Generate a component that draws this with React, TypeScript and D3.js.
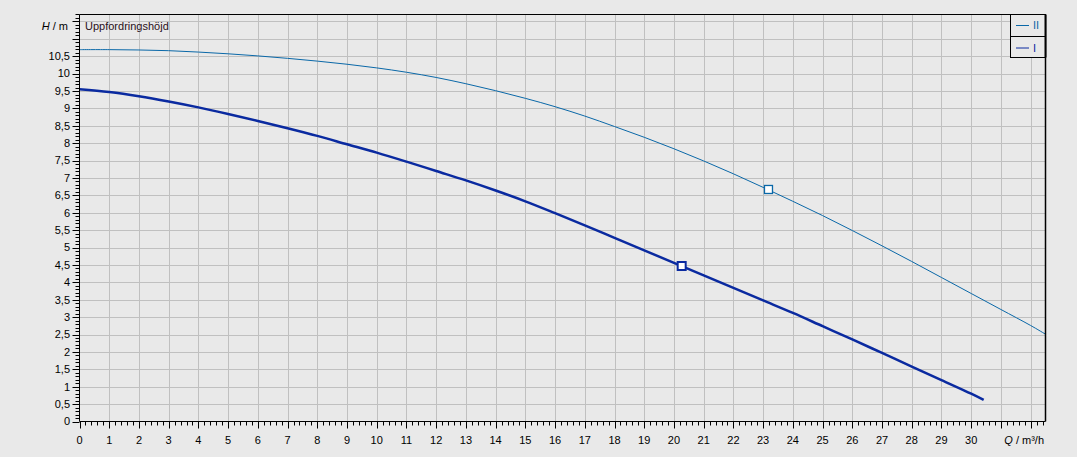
import React from "react";
import * as d3 from "d3";

const flowI = [0, 1, 2, 3, 4, 5, 6, 7, 8, 9, 10, 11, 12, 13, 14, 15, 16, 17, 18, 19, 20, 21, 22, 23, 24, 25, 26, 27, 28, 29, 30, 30.42];
const headI = [9.55, 9.47, 9.35, 9.2, 9.03, 8.84, 8.64, 8.43, 8.21, 7.97, 7.73, 7.47, 7.2, 6.93, 6.64, 6.33, 5.99, 5.64, 5.28, 4.92, 4.56, 4.2, 3.84, 3.48, 3.12, 2.74, 2.36, 1.97, 1.58, 1.19, 0.8, 0.62];
const flowII = [0, 1, 2, 3, 4, 5, 6, 7, 8, 9, 10, 11, 12, 13, 14, 15, 16, 17, 18, 19, 20, 21, 22, 23, 24, 25, 26, 27, 28, 29, 30, 31, 32, 32.5];
const headII = [10.69, 10.69, 10.68, 10.66, 10.62, 10.57, 10.51, 10.44, 10.36, 10.27, 10.165, 10.04, 9.89, 9.71, 9.51, 9.29, 9.05, 8.78, 8.48, 8.17, 7.84, 7.49, 7.12, 6.73, 6.33, 5.92, 5.49, 5.05, 4.6, 4.14, 3.68, 3.22, 2.76, 2.51];
const dutyPoints = [
  { name: "II", q: 23.18, h: 6.67 },
  { name: "I", q: 20.26, h: 4.47 },
];
const legendNames = ["II", "I"];
const yTickLabels = ["0", "0,5", "1", "1,5", "2", "2,5", "3", "3,5", "4", "4,5", "5", "5,5", "6", "6,5", "7", "7,5", "8", "8,5", "9", "9,5", "10", "10,5"];
const xTickLabels = ["0", "1", "2", "3", "4", "5", "6", "7", "8", "9", "10", "11", "12", "13", "14", "15", "16", "17", "18", "19", "20", "21", "22", "23", "24", "25", "26", "27", "28", "29", "30"];

const W = 1077, H = 457;
const L = 79.5, R = 1045.5, T = 14.5, B = 421.5;
const colI = "#0a2aa0";
const colII = "#0a68a8";
const font = "'Liberation Sans', Arial, sans-serif";

export default function App() {
  const x = d3.scaleLinear().domain([0, 32.5]).range([L, R]);
  const y = d3.scaleLinear().domain([0, 11.7]).range([B, T]);
  const line = d3.line<number>().curve(d3.curveCatmullRom.alpha(0.5));
  const pathI = line(flowI.map((q, i) => [x(q), y(headI[i])]) as any);
  const pathII = line(flowII.map((q, i) => [x(q), y(headII[i])]) as any);

  const xMinor = d3.range(0, 32.5 + 1e-9, 0.2);
  const yMinor = d3.range(0, 11.7 + 1e-9, 0.1);
  const xGrid = d3.range(1, 33);
  const yGrid = d3.range(0.5, 11.6, 0.5);

  return (
    <svg width={W} height={H} style={{ position: "absolute", left: 0, top: 0, background: "#e9e9e9" }} fontFamily={font}>
      <rect x={0} y={0} width={W} height={H} fill="#e9e9e9" />
      {xGrid.map((v) => (
        <line key={"gx" + v} x1={Math.round(x(v)) + 0.5} x2={Math.round(x(v)) + 0.5} y1={T} y2={B} stroke="#c0c0c0" strokeWidth={1} />
      ))}
      {yGrid.map((v) => (
        <line key={"gy" + v} x1={L} x2={R} y1={Math.round(y(v)) + 0.5} y2={Math.round(y(v)) + 0.5} stroke="#c0c0c0" strokeWidth={1} />
      ))}
      <path d={pathII || ""} fill="none" stroke={colII} strokeWidth={1} />
      <path d={pathI || ""} fill="none" stroke={colI} strokeWidth={2.5} />
      {dutyPoints.map((p) => (
        <rect key={p.name} x={x(p.q) - 4} y={y(p.h) - 4} width={8} height={8} fill="#ffffff"
          stroke={p.name === "I" ? colI : colII} strokeWidth={p.name === "I" ? 2 : 1.3} />
      ))}
      <line x1={L} x2={R} y1={T} y2={T} stroke="#000" strokeWidth={1} />
      <line x1={R} x2={R} y1={T} y2={B} stroke="#000" strokeWidth={1.5} />
      <line x1={L} x2={L} y1={T} y2={B} stroke="#000" strokeWidth={1} />
      <line x1={L} x2={R} y1={B} y2={B} stroke="#000" strokeWidth={1} />
      {yMinor.map((v, i) => {
        const major = i % 5 === 0;
        const yy = Math.round(y(v)) + 0.5;
        return <line key={"ty" + i} x1={L - (major ? 7 : 4)} x2={L} y1={yy} y2={yy} stroke="#000" strokeWidth={1} />;
      })}
      {yTickLabels.map((t, i) => (
        <text key={"ly" + i} x={70} y={y(i * 0.5)} dy="0.35em" textAnchor="end" fontSize={11} fill="#000">{t}</text>
      ))}
      {xMinor.map((v, i) => {
        const major = i % 5 === 0;
        const xx = Math.round(x(v)) + 0.5;
        return <line key={"tx" + i} x1={xx} x2={xx} y1={B} y2={B + (major ? 7 : 4)} stroke="#000" strokeWidth={1} />;
      })}
      {xTickLabels.map((t, i) => (
        <text key={"lx" + i} x={x(i)} y={444} textAnchor="middle" fontSize={11} fill="#000">{t}</text>
      ))}
      <text x={68} y={30} textAnchor="end" fontSize={11} fill="#000">
        <tspan fontStyle="italic">H</tspan> / m
      </text>
      <text x={85} y={30} fontSize={11} fill="#2a1020">Uppfordringshöjd</text>
      <text x={1044} y={444} textAnchor="end" fontSize={11} fill="#000">
        <tspan fontStyle="italic">Q</tspan> / m³/h
      </text>
      <rect x={1010.5} y={T} width={R - 1010.5} height={43} fill="#e9e9e9" stroke="#000" strokeWidth={1} />
      <line x1={1010.5} x2={R} y1={36.5} y2={36.5} stroke="#000" strokeWidth={1} />
      <line x1={R} x2={R} y1={T} y2={57.5} stroke="#000" strokeWidth={2} />
      {legendNames.map((n, i) => {
        const c = n === "I" ? colI : colII;
        const yy = 25.5 + i * 22.5;
        return (
          <g key={"lg" + n}>
            <line x1={1016} x2={1029} y1={yy} y2={yy} stroke={c} strokeWidth={1} />
            <text x={1033} y={yy} dy="0.35em" fontSize={11} fill={c}>{n}</text>
          </g>
        );
      })}
    </svg>
  );
}
